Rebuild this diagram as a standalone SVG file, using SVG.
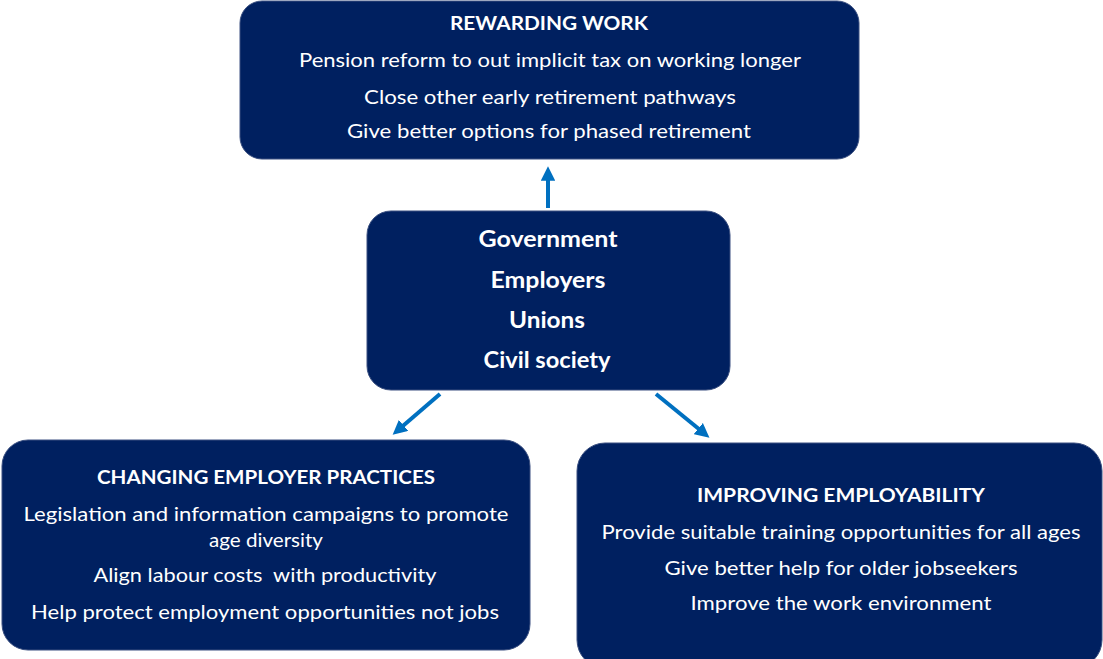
<svg xmlns="http://www.w3.org/2000/svg" width="1103" height="659" viewBox="0 0 1103 659">
<style>
.box{fill:#002060;stroke:#3a4f80;stroke-width:1}
.t{font-family:Lato,"Open Sans","Liberation Sans",sans-serif;fill:#fff;text-anchor:middle;font-size:20px}
.h{font-weight:bold;font-size:19px}
.c{font-weight:bold;font-size:22px}
.con{stroke:#0070c0;stroke-width:4;fill:none;marker-end:url(#ah)}
</style>
<defs>
<marker id="ah" viewBox="0 0 10 10" refX="6" refY="5" markerWidth="3.6" markerHeight="3.6" orient="auto" markerUnits="strokeWidth">
<path d="M0,0 L10,5 L0,10 z" fill="#0070c0"/>
</marker>
</defs>
<rect width="1103" height="659" fill="#fff"/>
<g id="connectors">
<line class="con" x1="548" y1="208" x2="548" y2="172"/>
<line class="con" x1="440" y1="394" x2="397" y2="431"/>
<line class="con" x1="656" y1="394" x2="705" y2="434"/>
</g>
<g id="rewarding">
<rect class="box" x="240" y="1" width="619" height="158" rx="22"/>
<text class="t h" x="549" y="30" textLength="198" lengthAdjust="spacingAndGlyphs">REWARDING WORK</text>
<text class="t" x="550" y="67" textLength="502" lengthAdjust="spacingAndGlyphs">Pension reform to out implicit tax on working longer</text>
<text class="t" x="550" y="104" textLength="372" lengthAdjust="spacingAndGlyphs">Close other early retirement pathways</text>
<text class="t" x="549" y="138" textLength="404" lengthAdjust="spacingAndGlyphs">Give better options for phased retirement</text>
</g>
<g id="actors">
<rect class="box" x="367" y="211" width="363" height="179" rx="24"/>
<text class="t c" x="548" y="247" textLength="139" lengthAdjust="spacingAndGlyphs">Government</text>
<text class="t c" x="548" y="288" textLength="115" lengthAdjust="spacingAndGlyphs">Employers</text>
<text class="t c" x="547" y="328" textLength="76" lengthAdjust="spacingAndGlyphs">Unions</text>
<text class="t c" x="547" y="368" textLength="127" lengthAdjust="spacingAndGlyphs">Civil society</text>
</g>
<g id="employer">
<rect class="box" x="2" y="440" width="528" height="210" rx="26"/>
<text class="t h" x="266" y="484" textLength="338" lengthAdjust="spacingAndGlyphs">CHANGING EMPLOYER PRACTICES</text>
<text class="t" x="266" y="521" textLength="485" lengthAdjust="spacingAndGlyphs">Legislation and information campaigns to promote</text>
<text class="t" x="266" y="547" textLength="114" lengthAdjust="spacingAndGlyphs">age diversity</text>
<text class="t" x="265" y="582" textLength="343" lengthAdjust="spacingAndGlyphs" xml:space="preserve" style="white-space:pre">Align labour costs  with productivity</text>
<text class="t" x="265" y="619" textLength="468" lengthAdjust="spacingAndGlyphs">Help protect employment opportunities not jobs</text>
</g>
<g id="employability">
<rect class="box" x="577" y="443" width="525" height="225" rx="28"/>
<text class="t h" x="841" y="502" textLength="288" lengthAdjust="spacingAndGlyphs">IMPROVING EMPLOYABILITY</text>
<text class="t" x="841" y="539" textLength="479" lengthAdjust="spacingAndGlyphs">Provide suitable training opportunities for all ages</text>
<text class="t" x="841" y="575" textLength="353" lengthAdjust="spacingAndGlyphs">Give better help for older jobseekers</text>
<text class="t" x="841" y="610" textLength="301" lengthAdjust="spacingAndGlyphs">Improve the work environment</text>
</g>
</svg>
